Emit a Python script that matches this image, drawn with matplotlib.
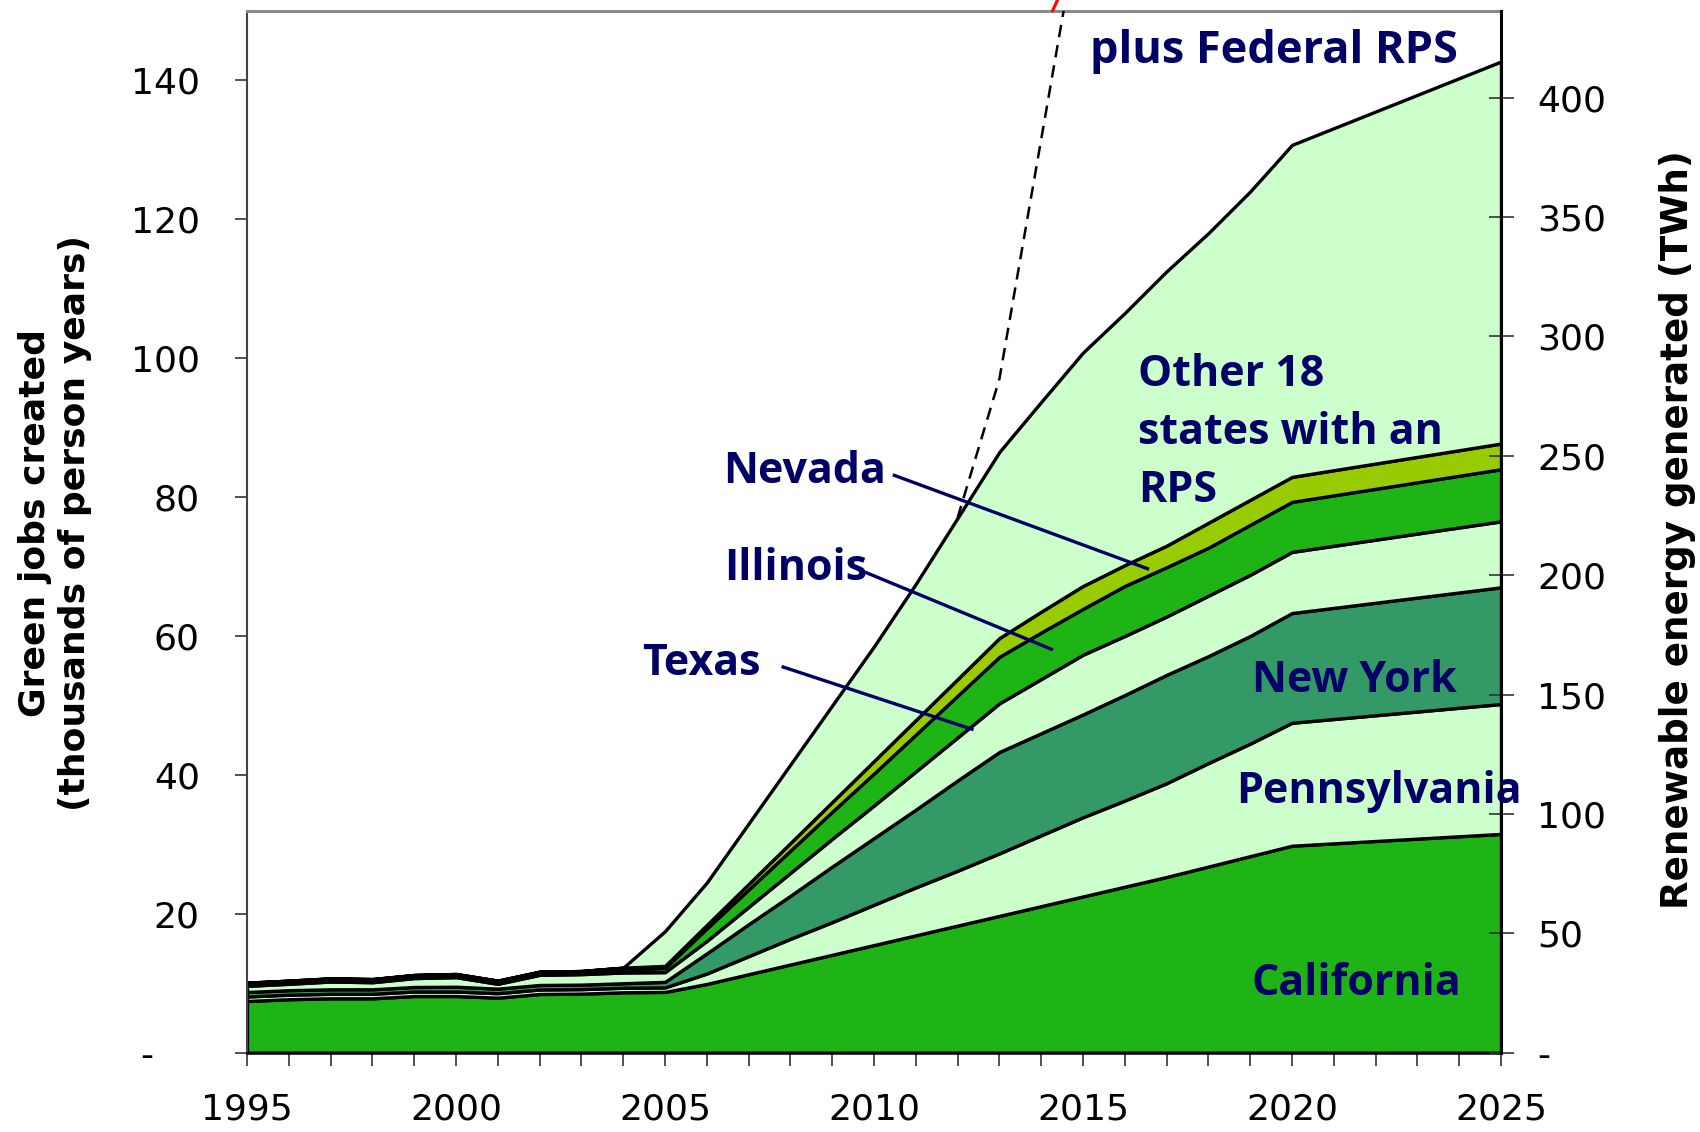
import matplotlib
matplotlib.use("Agg")
import matplotlib.pyplot as plt
from matplotlib.lines import Line2D
import numpy as np

# ---------------- data ----------------
years = [1995, 1996, 1997, 1998, 1999, 2000, 2001, 2002, 2003, 2004, 2005,
         2006, 2007, 2008, 2009, 2010, 2011, 2012, 2013, 2014, 2015,
         2016, 2017, 2018, 2019, 2020, 2025]

california = [7.44, 7.70, 7.83, 7.83, 8.16, 8.16, 7.92, 8.45, 8.50, 8.70, 8.75,
              9.9, 11.3, 12.7, 14.1, 15.5, 16.9, 18.3, 19.7, 21.1, 22.5,
              23.9, 25.3, 26.8, 28.3, 29.8, 31.5]
pennsylvania = [0.65, 0.65, 0.65, 0.65, 0.65, 0.65, 0.65, 0.65, 0.65, 0.65, 0.65,
                1.5, 2.6, 3.7, 4.7, 5.8, 6.9, 7.9, 9.0, 10.2, 11.4,
                12.4, 13.5, 14.9, 16.2, 17.7, 18.7]
new_york = [0.65, 0.65, 0.65, 0.65, 0.65, 0.69, 0.65, 0.65, 0.65, 0.65, 0.8,
            2.9, 4.6, 6.2, 8.0, 9.6, 11.2, 13.0, 14.6, 14.7, 14.8,
            15.2, 15.6, 15.4, 15.5, 15.8, 16.8]
texas = [0.89, 0.92, 1.12, 1.02, 1.28, 1.38, 0.70, 1.46, 1.51, 1.55, 1.4,
         1.8, 2.5, 3.3, 4.0, 4.7, 5.5, 6.2, 7.0, 7.8, 8.6,
         8.5, 8.4, 8.7, 8.8, 8.8, 9.5]
illinois = [0.25, 0.25, 0.25, 0.25, 0.25, 0.25, 0.25, 0.25, 0.25, 0.40, 0.6,
            1.8, 2.5, 3.2, 3.9, 4.6, 5.3, 6.0, 6.7, 6.7, 6.6,
            7.2, 7.1, 6.9, 7.2, 7.2, 7.5]
nevada = [0.2, 0.2, 0.2, 0.2, 0.2, 0.2, 0.2, 0.2, 0.2, 0.29, 0.3,
          0.5, 0.8, 1.1, 1.4, 1.8, 2.1, 2.4, 2.7, 3.0, 3.3,
          3.0, 3.1, 3.6, 3.6, 3.6, 3.7]
other18 = [0, 0, 0, 0, 0, 0, 0, 0, 0, 0, 5.0,
           6.1, 8.7, 11.3, 13.9, 16.5, 19.6, 23.2, 26.8, 30.2, 33.6,
           36.3, 39.5, 41.7, 44.4, 47.8, 55.0]

federal_years = [2012, 2013, 2015]
federal_total = [77.0, 97.0, 166.0]

left_ticks = [0, 20, 40, 60, 80, 100, 120, 140]
left_ticklabels = ["-    ", "20", "40", "60", "80", "100", "120", "140"]
right_ticks = [0, 50, 100, 150, 200, 250, 300, 350, 400]
right_ticklabels = ["-", "50", "100", "150", "200", "250", "300", "350", "400"]
x_ticks = [1995, 2000, 2005, 2010, 2015, 2020, 2025]

twh_per_job = 2.909  # right-axis scale factor

# annotation leader lines (from label to band)
nevada_line = ([2010.45, 2016.58], [83.2, 69.6])
illinois_line = ([2009.78, 2014.28], [69.2, 58.0])
texas_line = ([2007.79, 2012.38], [55.6, 46.5])

# ---------------- figure ----------------
W, H = 1700, 1132
fig = plt.figure(figsize=(W / 100, H / 100), dpi=100)
ax = fig.add_axes([247 / W, 1 - 1052.7 / H, (1501 - 247) / W, (1052.7 - 10.8) / H])

c_bright = "#1FB416"
c_light = "#CCFFCC"
c_sea = "#339966"
c_yellow = "#99CC00"
navy = "#000066"

ax.stackplot(years, california, pennsylvania, new_york, texas, illinois, nevada, other18,
             colors=[c_bright, c_light, c_sea, c_light, c_bright, c_yellow, c_light],
             edgecolor="black", linewidth=2.4, zorder=2)

ax.plot(federal_years, federal_total, color="black", lw=1.8, dashes=(5.0, 3.2), zorder=3)

for xs, ys in (nevada_line, illinois_line, texas_line):
    ax.plot(xs, ys, color=navy, lw=2.4, zorder=4, solid_capstyle="butt")

ax.set_xlim(1995, 2025)
ax.set_ylim(0, 150)
ax.set_xticks(x_ticks)
ax.set_xticklabels([str(t) for t in x_ticks])
ax.set_xticks(np.arange(1995, 2026, 1), minor=True)
ax.set_yticks(left_ticks)
ax.set_yticklabels(left_ticklabels)

ax.tick_params(axis="x", which="both", direction="out", length=9, width=1.2,
               labelsize=26, pad=20, color="#333333")
ax.tick_params(axis="y", which="both", direction="out", length=9, width=1.2,
               labelsize=26, pad=25, color="#333333")

ax2 = ax.twinx()
ax2.set_ylim(0, 150 * twh_per_job)
ax2.set_yticks(right_ticks)
ax2.set_yticklabels(right_ticklabels)
ax2.tick_params(axis="y", direction="inout", length=18, width=1.2, labelsize=26, pad=17,
                color="#333333")

ax.spines["left"].set_color("#444444")
ax.spines["left"].set_linewidth(1.5)
ax.spines["bottom"].set_color("black")
ax.spines["bottom"].set_linewidth(1.8)
ax.spines["top"].set_color("#8a8a8a")
ax.spines["top"].set_linewidth(2.2)
ax.spines["right"].set_visible(False)
for s in ("left", "top", "bottom"):
    ax2.spines[s].set_visible(False)
ax2.spines["right"].set_color("black")
ax2.spines["right"].set_linewidth(2.2)

# axis titles
fig.text(55 / W, 1 - 523 / H, "Green jobs created\n(thousands of person years)",
         rotation=90, ha="center", va="center", multialignment="center",
         fontsize=26, fontweight="bold", family="DejaVu Sans", linespacing=1.25)
fig.text(1678 / W, 1 - 530 / H, "Renewable energy generated (TWh)",
         rotation=90, ha="center", va="center",
         fontsize=26.8, fontweight="bold", family="DejaVu Sans")

# series labels
lab = dict(color=navy, fontweight="bold", family=["Open Sans", "DejaVu Sans"], ha="left",
           va="baseline", zorder=5)


def ftxt(x, y, s, size=31, **kw):
    d = dict(lab)
    d.update(kw)
    fig.text(x / W, 1 - y / H, s, fontsize=size, **d)


ftxt(1090, 63, "plus Federal RPS", size=32.5)
ftxt(1138, 386, "Other 18")
ftxt(1138, 444, "states with an")
ftxt(1138, 502, "RPS")
ftxt(723, 483, "Nevada")
ftxt(724, 580, "Illinois")
ftxt(642, 675, "Texas")
ftxt(1252, 692, "New York")
ftxt(1236, 803, "Pennsylvania")
ftxt(1252, 995, "California")

# red continuation tick of the Federal RPS line above the plot
fig.add_artist(Line2D([1052.7 / W, 1057.5 / W], [1 - 10.5 / H, 1 - 0 / H],
                      color="red", lw=2.2, transform=fig.transFigure))

fig.savefig("out.png", dpi=100)
